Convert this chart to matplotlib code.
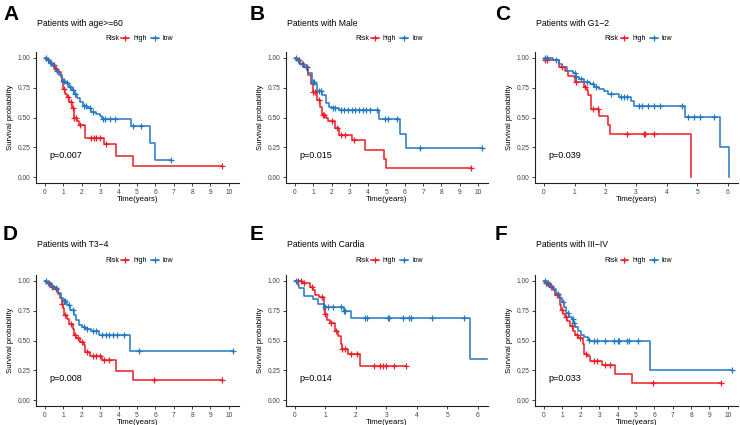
import numpy as np
import matplotlib
matplotlib.use("Agg")
import matplotlib.pyplot as plt
from matplotlib.lines import Line2D

plt.rcParams['font.family'] = ['Liberation Sans', 'DejaVu Sans']

RED = '#EE1C24'
BLUE = '#2378C3'

# --- DATA ---
# each curve: step times, survival after each step, end of follow-up, censor times

# A: age>=60
a_high_t = [0, 0.05, 0.25, 0.4, 0.55, 0.7, 0.85, 0.95, 1.0, 1.1, 1.2, 1.3, 1.45, 1.55, 1.75, 1.85, 2.15, 2.2, 3.2, 3.85, 4.8]
a_high_s = [1.0, 0.98, 0.96, 0.94, 0.91, 0.88, 0.84, 0.80, 0.74, 0.70, 0.67, 0.63, 0.58, 0.50, 0.47, 0.44, 0.42, 0.33, 0.28, 0.18, 0.095]
a_high_end = 9.65
a_high_cens = [0.3, 0.5, 0.6, 1.05, 1.25, 1.4, 1.5, 1.6, 1.7, 1.9, 2.5, 2.65, 2.8, 3.0, 3.3, 9.65]
a_low_t = [0, 0.1, 0.2, 0.35, 0.5, 0.6, 0.75, 0.9, 1.1, 1.3, 1.45, 1.6, 1.75, 1.9, 2.05, 2.3, 2.5, 2.8, 3.0, 3.1, 4.65, 5.7, 6.0]
a_low_s = [1.0, 0.98, 0.96, 0.94, 0.92, 0.89, 0.86, 0.81, 0.79, 0.76, 0.73, 0.70, 0.66, 0.63, 0.60, 0.58, 0.55, 0.53, 0.51, 0.49, 0.43, 0.285, 0.14]
a_low_end = 6.85
a_low_cens = [0.05, 0.15, 0.3, 0.45, 0.65, 1.0, 1.05, 1.2, 1.35, 1.5, 1.65, 2.1, 2.25, 2.45, 2.6, 3.15, 3.25, 3.55, 3.8, 4.8, 5.2, 6.85]

# B: Male
b_high_t = [0, 0.05, 0.25, 0.5, 0.7, 0.9, 1.0, 1.2, 1.35, 1.5, 1.7, 1.8, 2.2, 2.4, 3.1, 3.85, 4.85, 5.0]
b_high_s = [1.0, 0.98, 0.95, 0.92, 0.86, 0.78, 0.71, 0.65, 0.59, 0.52, 0.50, 0.47, 0.41, 0.355, 0.31, 0.225, 0.15, 0.075]
b_high_end = 9.6
b_high_cens = [0.2, 0.45, 0.65, 1.0, 1.1, 1.3, 1.55, 1.6, 2.0, 2.3, 2.5, 2.75, 3.2, 9.6]
b_low_t = [0, 0.1, 0.3, 0.5, 0.7, 0.95, 1.1, 1.2, 1.5, 1.7, 1.85, 2.0, 2.4, 4.6, 5.75, 6.05]
b_low_s = [1.0, 0.98, 0.95, 0.92, 0.87, 0.80, 0.78, 0.72, 0.69, 0.62, 0.59, 0.58, 0.56, 0.49, 0.36, 0.245]
b_low_end = 10.2
b_low_cens = [0.05, 0.15, 0.4, 0.6, 1.0, 1.05, 1.3, 1.4, 2.1, 2.2, 2.5, 2.7, 2.9, 3.1, 3.3, 3.5, 3.7, 3.9, 4.1, 4.5, 4.9, 5.1, 5.6, 6.85, 10.2]

# C: G1-2
c_high_t = [0, 0.2, 0.5, 0.7, 0.8, 1.0, 1.3, 1.4, 1.45, 1.55, 1.8, 2.1, 2.15, 4.8]
c_high_s = [0.98, 0.98, 0.92, 0.89, 0.85, 0.80, 0.76, 0.73, 0.69, 0.57, 0.51, 0.44, 0.36, 0.0]
c_high_end = 4.8
c_high_cens = [0.05, 0.1, 0.6, 1.05, 1.35, 1.6, 1.75, 2.7, 3.25, 3.3, 3.6]
c_low_t = [0, 0.3, 0.5, 0.6, 0.75, 0.95, 1.05, 1.15, 1.3, 1.5, 1.65, 1.8, 1.95, 2.1, 2.45, 2.85, 2.95, 4.6, 5.75, 6.05]
c_low_s = [1.0, 0.98, 0.95, 0.92, 0.89, 0.87, 0.84, 0.82, 0.80, 0.78, 0.76, 0.74, 0.72, 0.70, 0.67, 0.64, 0.595, 0.505, 0.25, 0.0]
c_low_end = 6.05
c_low_cens = [0.05, 0.1, 0.4, 1.0, 1.05, 1.2, 1.4, 1.6, 1.7, 2.2, 2.5, 2.6, 2.7, 3.1, 3.2, 3.4, 3.6, 3.8, 4.5, 4.7, 4.9, 5.1, 5.55]

# D: T3-4
d_high_t = [0, 0.05, 0.3, 0.5, 0.7, 0.8, 0.9, 1.0, 1.05, 1.2, 1.3, 1.5, 1.55, 1.7, 1.9, 2.1, 2.2, 2.45, 3.1, 3.85, 4.8]
d_high_s = [1.0, 0.98, 0.95, 0.93, 0.89, 0.86, 0.81, 0.77, 0.71, 0.68, 0.64, 0.60, 0.545, 0.52, 0.49, 0.46, 0.40, 0.37, 0.335, 0.245, 0.165]
d_high_end = 9.65
d_high_cens = [0.2, 0.4, 0.6, 0.95, 1.1, 1.4, 1.65, 1.8, 2.0, 2.3, 2.6, 2.8, 3.0, 3.2, 3.5, 5.95, 9.65]
d_low_t = [0, 0.1, 0.3, 0.5, 0.7, 0.85, 1.0, 1.2, 1.35, 1.6, 1.7, 1.85, 2.0, 2.2, 2.5, 2.95, 4.6]
d_low_s = [1.0, 0.98, 0.96, 0.94, 0.90, 0.86, 0.83, 0.80, 0.76, 0.71, 0.67, 0.63, 0.615, 0.60, 0.58, 0.545, 0.41]
d_low_end = 10.2
d_low_cens = [0.05, 0.15, 0.4, 0.6, 1.05, 1.1, 1.3, 1.5, 2.1, 2.3, 2.6, 2.8, 3.1, 3.3, 3.5, 3.7, 3.9, 4.3, 5.1, 10.2]

# E: Cardia
e_high_t = [0, 0.25, 0.5, 0.6, 0.65, 0.8, 0.96, 1.0, 1.05, 1.15, 1.3, 1.4, 1.5, 1.55, 1.75, 2.15]
e_high_s = [1.0, 0.98, 0.95, 0.92, 0.88, 0.865, 0.76, 0.72, 0.67, 0.65, 0.58, 0.54, 0.47, 0.43, 0.39, 0.29]
e_high_end = 3.65
e_high_cens = [0.1, 0.2, 0.3, 0.55, 0.9, 1.0, 1.2, 1.35, 1.55, 1.65, 1.85, 2.05, 2.6, 2.8, 2.9, 3.0, 3.25, 3.65]
e_low_t = [0, 0.1, 0.15, 0.3, 0.6, 0.75, 0.95, 1.6, 1.85, 5.75]
e_low_s = [1.0, 0.97, 0.94, 0.875, 0.85, 0.81, 0.78, 0.75, 0.69, 0.345]
e_low_end = 6.3
e_low_cens = [0.05, 1.0, 1.1, 1.25, 1.5, 1.6, 1.65, 2.3, 2.35, 3.05, 3.1, 3.55, 3.75, 3.8, 4.5, 5.55]

# F: III-IV
f_high_t = [0, 0.05, 0.3, 0.5, 0.6, 0.8, 0.85, 0.95, 1.05, 1.15, 1.25, 1.4, 1.55, 1.7, 1.85, 2.1, 2.2, 2.35, 2.5, 3.15, 3.85, 4.8]
f_high_s = [1.0, 0.98, 0.95, 0.92, 0.88, 0.86, 0.80, 0.76, 0.72, 0.70, 0.66, 0.62, 0.58, 0.55, 0.52, 0.47, 0.385, 0.37, 0.325, 0.295, 0.215, 0.145]
f_high_end = 9.65
f_high_cens = [0.1, 0.2, 0.4, 0.7, 1.0, 1.2, 1.5, 1.8, 1.95, 2.3, 2.7, 2.9, 3.3, 3.6, 5.95, 9.65]
f_low_t = [0, 0.1, 0.3, 0.5, 0.65, 0.85, 1.0, 1.1, 1.2, 1.35, 1.5, 1.6, 1.7, 1.85, 2.0, 2.2, 2.4, 2.5, 5.75]
f_low_s = [1.0, 0.98, 0.96, 0.93, 0.89, 0.86, 0.82, 0.78, 0.73, 0.70, 0.68, 0.65, 0.61, 0.58, 0.55, 0.53, 0.505, 0.50, 0.25]
f_low_end = 10.2
f_low_cens = [0.05, 0.15, 0.4, 0.75, 1.05, 1.3, 1.55, 1.65, 2.45, 2.7, 2.9, 3.3, 3.8, 4.0, 4.1, 4.5, 4.6, 5.1, 10.2]

letters = ['A', 'B', 'C', 'D', 'E', 'F']
titles = ['Patients with age>=60', 'Patients with Male', 'Patients with G1\u22122',
          'Patients with T3\u22124', 'Patients with Cardia', 'Patients with III\u2212IV']
pvalues = ['p=0.007', 'p=0.015', 'p=0.039', 'p=0.008', 'p=0.014', 'p=0.033']
xmax_ticks = [10, 10, 6, 10, 6, 10]

curves = [
    ((a_high_t, a_high_s, a_high_end, a_high_cens), (a_low_t, a_low_s, a_low_end, a_low_cens)),
    ((b_high_t, b_high_s, b_high_end, b_high_cens), (b_low_t, b_low_s, b_low_end, b_low_cens)),
    ((c_high_t, c_high_s, c_high_end, c_high_cens), (c_low_t, c_low_s, c_low_end, c_low_cens)),
    ((d_high_t, d_high_s, d_high_end, d_high_cens), (d_low_t, d_low_s, d_low_end, d_low_cens)),
    ((e_high_t, e_high_s, e_high_end, e_high_cens), (e_low_t, e_low_s, e_low_end, e_low_cens)),
    ((f_high_t, f_high_s, f_high_end, f_high_cens), (f_low_t, f_low_s, f_low_end, f_low_cens)),
]

# --- LAYOUT (pixels) ---
W, H = 740, 425
lefts = [36, 286, 535]
rights = [239, 488, 738]
tops = [52, 275]
bottoms = [183, 406]

fig = plt.figure(figsize=(W / 100, H / 100), dpi=100)


def fx(x):
    return x / W


def fy(y):
    return 1 - y / H


def km(ax, t, s, end, cens, color):
    t = np.asarray(t)
    s = np.asarray(s)
    x = np.append(t, end)
    y = np.append(s, s[-1])
    ax.plot(x, y, drawstyle='steps-post', color=color, lw=1.1, zorder=3)
    idx = np.searchsorted(t, cens, side='right') - 1
    ax.plot(cens, s[idx], linestyle='none', marker='+', color=color,
            markersize=4.5, markeredgewidth=0.9, zorder=4)


for i in range(6):
    row, col = divmod(i, 3)
    l, r = lefts[col], rights[col]
    top, bot = tops[row], bottoms[row]
    ax = fig.add_axes([fx(l), fy(bot), fx(r - l), (bot - top) / H])

    high, low = curves[i]
    km(ax, *high, RED)
    km(ax, *low, BLUE)

    xm = xmax_ticks[i]
    if xm == 10:
        ax.set_xlim(-0.49, 10.55)
    else:
        ax.set_xlim(-0.29, 6.33)
    ax.set_ylim(-0.05, 1.05)
    ax.set_xticks(range(0, xm + 1))
    ax.set_yticks([0, 0.25, 0.5, 0.75, 1.0])
    ax.set_yticklabels(['0.00', '0.25', '0.50', '0.75', '1.00'])
    for sp in ['top', 'right']:
        ax.spines[sp].set_visible(False)
    for sp in ['left', 'bottom']:
        ax.spines[sp].set_linewidth(0.8)
        ax.spines[sp].set_color('#222222')
    ax.tick_params(labelsize=4.8, length=2.5, width=0.6, pad=1.5,
                   colors='#222222', labelcolor='#444444')
    ax.set_xlabel('Time(years)', fontsize=5.6, labelpad=0.5)
    ax.set_ylabel('Survival probability', fontsize=5.6, labelpad=2.5)

    ax.text(13 / (r - l), 0.21, pvalues[i], transform=ax.transAxes,
            fontsize=6.5, va='center', ha='left')

    # panel letter
    lx = [3, 250, 495][col]
    ly = [20, 240][row]
    fig.text(fx(lx), fy(ly), letters[i], fontsize=15, fontweight='bold',
             va='baseline', ha='left')

    # title
    ty = [24, 245][row]
    fig.text(fx(l + 1), fy(ty), titles[i], fontsize=6.2, va='center', ha='left')

    # legend
    gy = [39, 261][row]
    cx = (l + r) / 2
    fig.text(fx(cx - 32), fy(gy), 'Risk', fontsize=5.0, va='center', ha='left')
    handles = [Line2D([], [], color=RED, lw=1.1, marker='+', markersize=4, markeredgewidth=0.9),
               Line2D([], [], color=BLUE, lw=1.1, marker='+', markersize=4, markeredgewidth=0.9)]
    fig.legend(handles, ['high', 'low'], loc='center left',
               bbox_to_anchor=(fx(cx - 16), fy(gy)), ncol=2, frameon=False,
               fontsize=5.0, handlelength=1.1, handletextpad=0.6,
               columnspacing=0.6, borderpad=0, borderaxespad=0)

fig.savefig('out.png', dpi=100)
